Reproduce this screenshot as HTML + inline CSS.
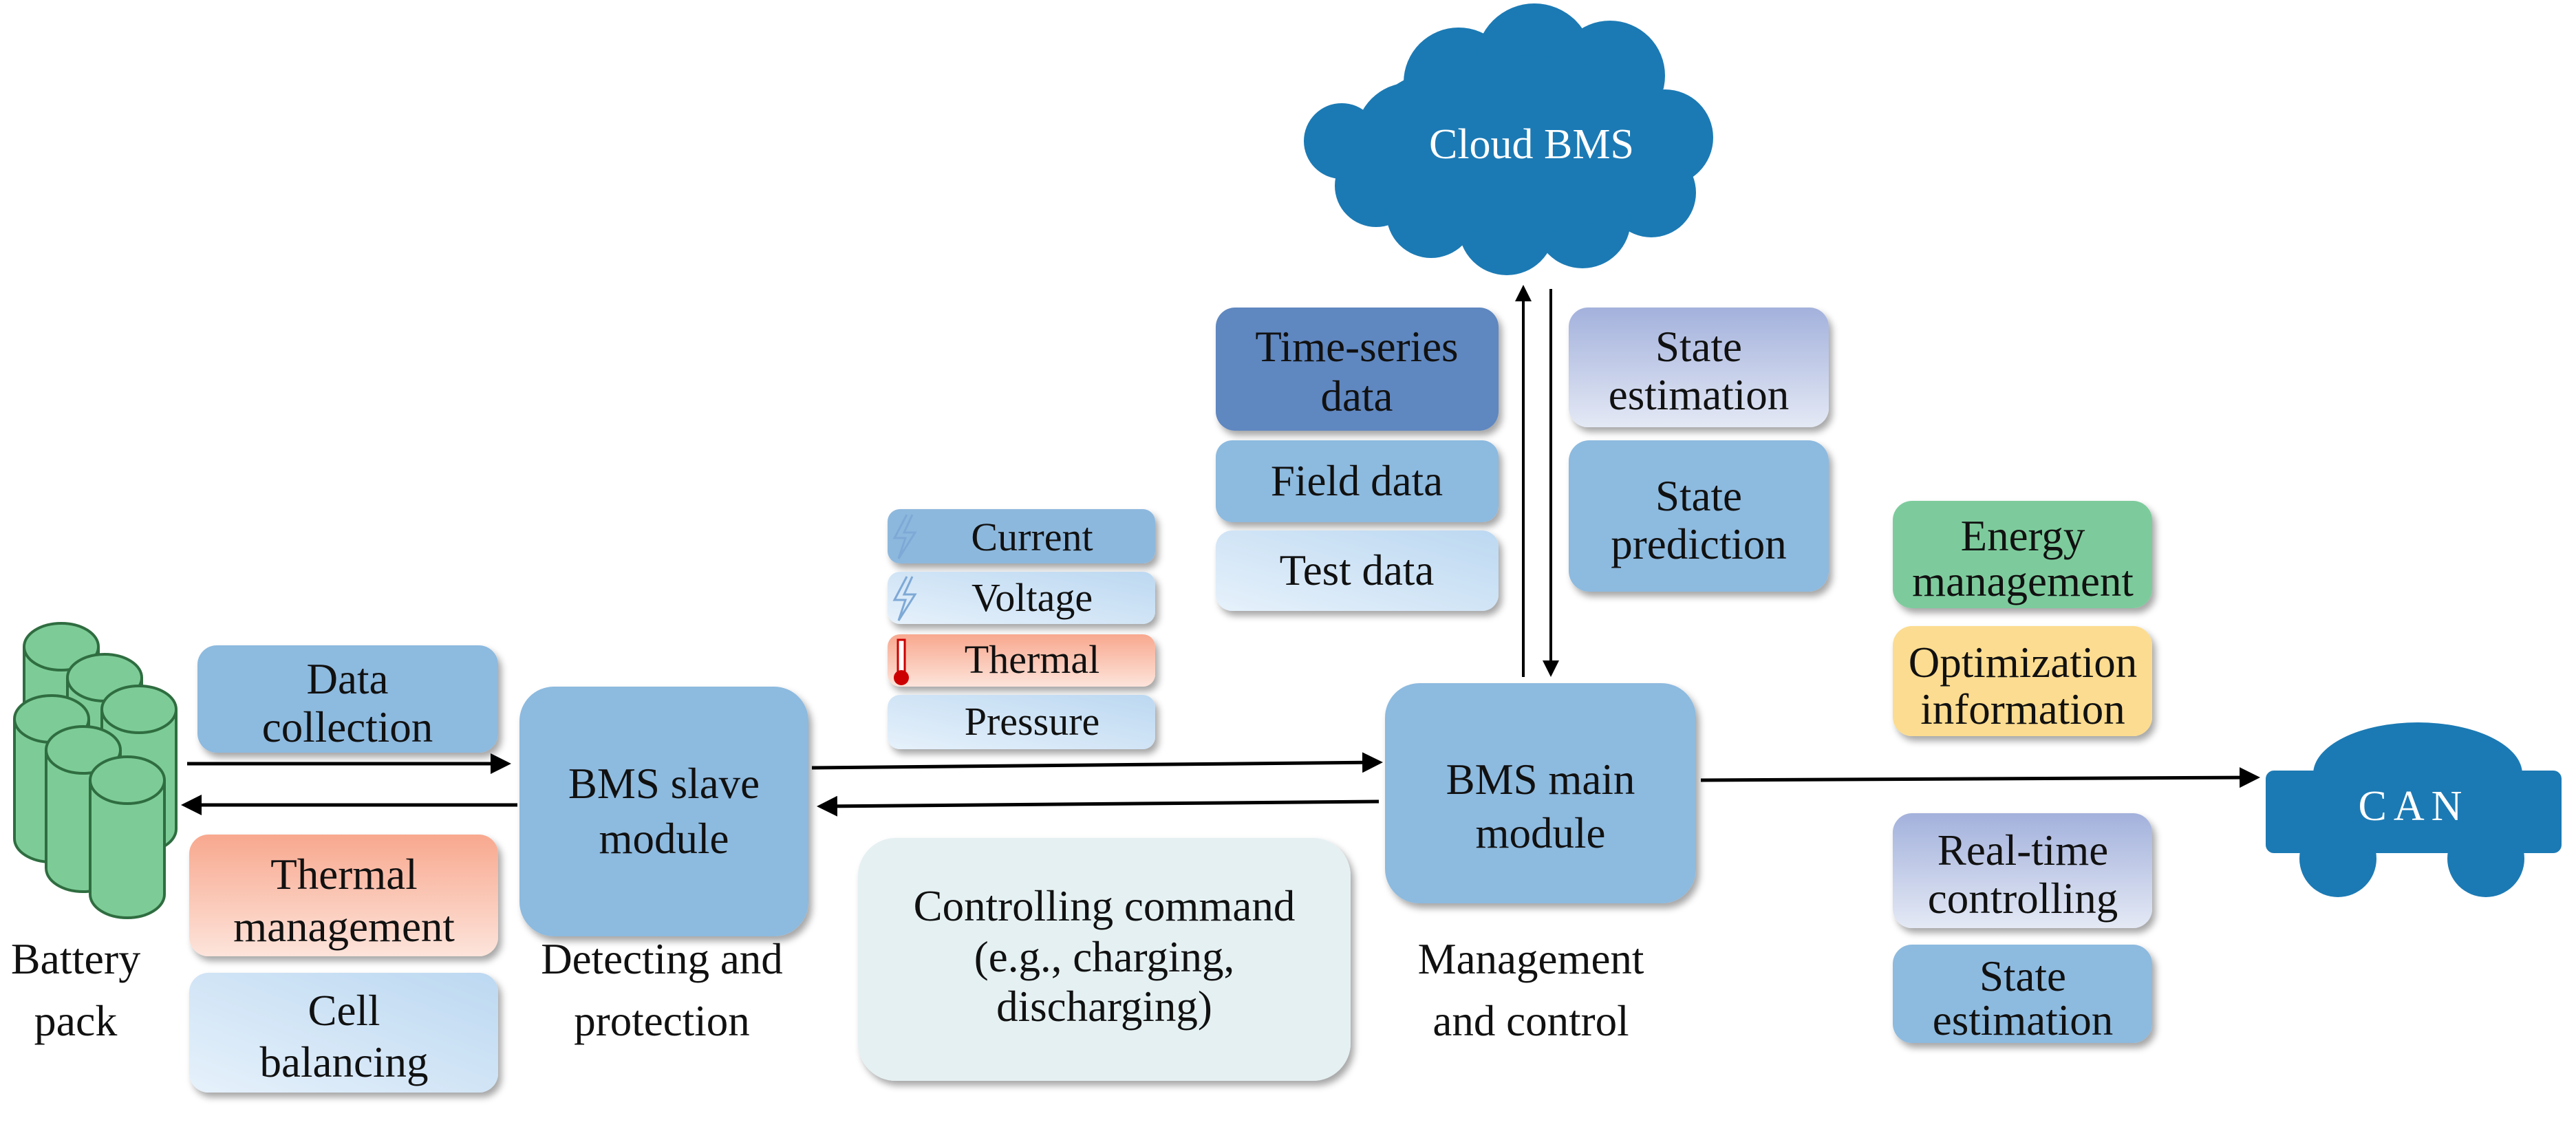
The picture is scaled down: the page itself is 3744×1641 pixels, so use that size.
<!DOCTYPE html>
<html><head><meta charset="utf-8"><style>
html,body{margin:0;padding:0;background:#fff;}
svg{display:block;}
svg text{font-family:"Liberation Serif","DejaVu Serif","Times New Roman",serif !important;fill:#111;text-anchor:middle;}
</style></head><body>
<svg width="3744" height="1641" viewBox="0 0 3744 1641" xmlns="http://www.w3.org/2000/svg" font-family="Liberation Serif, DejaVu Serif, serif">
<defs>
<filter id="sh" x="-10%" y="-10%" width="125%" height="130%"><feDropShadow dx="5" dy="7" stdDeviation="5" flood-color="#000" flood-opacity="0.35"/></filter>
<linearGradient id="gLight" x1="0" y1="1" x2="1" y2="0"><stop offset="0" stop-color="#e6f1fb"/><stop offset="1" stop-color="#bcd8f1"/></linearGradient>
<linearGradient id="gRed" x1="0" y1="0" x2="0" y2="1"><stop offset="0" stop-color="#f8a88e"/><stop offset="1" stop-color="#fde4db"/></linearGradient>
<linearGradient id="gPurp" x1="0" y1="0" x2="0" y2="1"><stop offset="0" stop-color="#a3b1dc"/><stop offset="1" stop-color="#e4e9f5"/></linearGradient>
<marker id="ah" markerWidth="6" markerHeight="6" refX="5" refY="3" orient="auto" markerUnits="strokeWidth"><path d="M0,0 L6,3 L0,6 z" fill="#000"/></marker>
</defs>

<g fill="#7dcc97" stroke="#2f6d40" stroke-width="4">
<g><path d="M35,940 V1116 A54,34 0 0 0 143,1116 V940"/><ellipse cx="89" cy="940" rx="54" ry="34"/></g>
<g><path d="M98,985 V1159 A54,34 0 0 0 206,1159 V985"/><ellipse cx="152" cy="985" rx="54" ry="34"/></g>
<g><path d="M148,1031 V1205 A54,34 0 0 0 256,1205 V1031"/><ellipse cx="202" cy="1031" rx="54" ry="34"/></g>
<g><path d="M21,1045 V1219 A54,34 0 0 0 129,1219 V1045"/><ellipse cx="75" cy="1045" rx="54" ry="34"/></g>
<g><path d="M67,1090 V1262 A54,34 0 0 0 175,1262 V1090"/><ellipse cx="121" cy="1090" rx="54" ry="34"/></g>
<g><path d="M131,1134 V1300 A54,34 0 0 0 239,1300 V1134"/><ellipse cx="185" cy="1134" rx="54" ry="34"/></g>
</g>
<text x="110" y="1415" font-size="64">Battery</text>
<text x="110" y="1505" font-size="64">pack</text>

<g filter="url(#sh)">
<rect x="287" y="938" width="437" height="156" rx="28" fill="#8dbadf"/>
<rect x="275" y="1213" width="449" height="177" rx="28" fill="url(#gRed)"/>
<rect x="275" y="1414" width="449" height="174" rx="28" fill="url(#gLight)"/>
<rect x="755" y="998" width="420" height="363" rx="50" fill="#8dbadf"/>
<rect x="1290" y="740" width="389" height="79" rx="18" fill="#8db8dd"/>
<rect x="1290" y="831" width="389" height="76" rx="18" fill="url(#gLight)"/>
<rect x="1290" y="922" width="389" height="76" rx="18" fill="url(#gRed)"/>
<rect x="1290" y="1010" width="389" height="79" rx="18" fill="url(#gLight)"/>
<rect x="1247" y="1218" width="716" height="353" rx="55" fill="#e5f0f2"/>
<rect x="2013" y="993" width="452" height="320" rx="50" fill="#8dbadf"/>
<rect x="1767" y="447" width="411" height="179" rx="28" fill="#5f87c0"/>
<rect x="1767" y="640" width="411" height="119" rx="24" fill="#8dbadf"/>
<rect x="1767" y="771" width="411" height="117" rx="24" fill="url(#gLight)"/>
<rect x="2280" y="447" width="378" height="174" rx="28" fill="url(#gPurp)"/>
<rect x="2280" y="640" width="378" height="220" rx="30" fill="#8dbadf"/>
<rect x="2751" y="728" width="377" height="156" rx="28" fill="#7dcb9c"/>
<rect x="2751" y="910" width="377" height="160" rx="28" fill="#fcdc90"/>
<rect x="2751" y="1182" width="377" height="167" rx="28" fill="url(#gPurp)"/>
<rect x="2751" y="1373" width="377" height="143" rx="28" fill="#8dbadf"/>
</g>

<g font-size="63">
<text x="505" y="1008">Data</text><text x="505" y="1078">collection</text>
<text x="500" y="1292">Thermal</text><text x="500" y="1368">management</text>
<text x="500" y="1490">Cell</text><text x="500" y="1565">balancing</text>
<text x="965" y="1160">BMS slave</text><text x="965" y="1240">module</text>
<text x="962" y="1415">Detecting and</text><text x="962" y="1505">protection</text>
<text x="1605" y="1338">Controlling command</text>
<text x="1605" y="1412">(e.g., charging,</text>
<text x="1605" y="1484">discharging)</text>
<text x="2239" y="1154">BMS main</text><text x="2239" y="1232">module</text>
<text x="2225" y="1415">Management</text><text x="2225" y="1505">and control</text>
<text x="1972" y="525">Time-series</text><text x="1972" y="597">data</text>
<text x="1972" y="720">Field data</text>
<text x="1972" y="850">Test data</text>
<text x="2469" y="525">State</text><text x="2469" y="595">estimation</text>
<text x="2469" y="742">State</text><text x="2469" y="812">prediction</text>
<text x="2940" y="800">Energy</text><text x="2940" y="866">management</text>
<text x="2940" y="984">Optimization</text><text x="2940" y="1052">information</text>
<text x="2940" y="1257">Real-time</text><text x="2940" y="1327">controlling</text>
<text x="2940" y="1440">State</text><text x="2940" y="1504">estimation</text>
</g>
<g font-size="58">
<text x="1500" y="800">Current</text>
<text x="1500" y="888">Voltage</text>
<text x="1500" y="978">Thermal</text>
<text x="1500" y="1068">Pressure</text>
</g>
<path d="M1318,748 L1300,782 L1316,782 L1306,812 L1330,774 L1314,774 L1326,748" fill="none" stroke="#7ea9d6" stroke-width="3"/>
<path d="M1318,838 L1300,872 L1316,872 L1306,902 L1330,864 L1314,864 L1326,838" fill="none" stroke="#7ea9d6" stroke-width="3"/>
<rect x="1305" y="930" width="10" height="50" fill="#fff" stroke="#c00" stroke-width="3"/>
<circle cx="1310" cy="985" r="11" fill="#c00"/>

<g fill="#1b7ab4">
<circle cx="2050" cy="200" r="80"/><circle cx="2000" cy="270" r="60"/><circle cx="2120" cy="120" r="80"/>
<circle cx="2230" cy="90" r="85"/><circle cx="2340" cy="110" r="80"/><circle cx="2420" cy="200" r="70"/>
<circle cx="2400" cy="280" r="65"/><circle cx="2300" cy="320" r="70"/><circle cx="2190" cy="330" r="70"/>
<circle cx="2080" cy="310" r="65"/><ellipse cx="2200" cy="210" rx="230" ry="130"/>
<circle cx="1950" cy="205" r="55"/>
</g>
<text x="2226" y="230" font-size="62" style="fill:#fff">Cloud BMS</text>

<g fill="#1b7ab4">
<ellipse cx="3514" cy="1125" rx="152" ry="75"/>
<rect x="3293" y="1120" width="430" height="120" rx="12"/>
<circle cx="3398" cy="1248" r="56"/><circle cx="3613" cy="1248" r="56"/>
</g>
<text x="3508" y="1192" font-size="62" letter-spacing="10" style="fill:#fff">CAN</text>

<g stroke="#000" stroke-width="5" fill="none">
<line x1="272" y1="1110" x2="738" y2="1110" marker-end="url(#ah)"/>
<line x1="752" y1="1170" x2="268" y2="1170" marker-end="url(#ah)"/>
<line x1="1180" y1="1116" x2="2005" y2="1108" marker-end="url(#ah)"/>
<line x1="2004" y1="1165" x2="1192" y2="1172" marker-end="url(#ah)"/>
<line x1="2214" y1="984" x2="2214" y2="418" marker-end="url(#ah)" stroke-width="4"/>
<line x1="2254" y1="420" x2="2254" y2="980" marker-end="url(#ah)" stroke-width="4"/>
<line x1="2472" y1="1134" x2="3280" y2="1130" marker-end="url(#ah)"/>
</g>
</svg>
</body></html>
